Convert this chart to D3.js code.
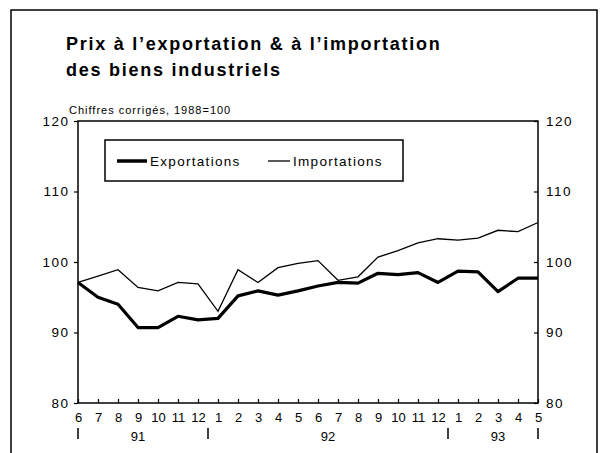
<!DOCTYPE html>
<html>
<head>
<meta charset="utf-8">
<script src="https://cdn.jsdelivr.net/npm/d3@7"></script>
<style>
  body { margin: 0; background: #fff; }
  svg { display: block; font-family: "Liberation Sans", Arial, sans-serif; }
</style>
</head>
<body>
<div id="graph"></div>
<script>
const width = 601, height = 453;

// months from 6/91 to 5/93
const months = ["6","7","8","9","10","11","12","1","2","3","4","5","6","7","8","9","10","11","12","1","2","3","4","5"];
const exportations = [97.1, 95.0, 94.0, 90.7, 90.7, 92.3, 91.8, 92.0, 95.2, 95.9, 95.3, 95.9, 96.6, 97.1, 97.0, 98.4, 98.2, 98.5, 97.1, 98.7, 98.6, 95.8, 97.7, 97.7];
const importations = [97.1, 98.0, 98.9, 96.4, 95.9, 97.1, 96.9, 93.0, 98.9, 97.1, 99.2, 99.8, 100.2, 97.4, 97.9, 100.7, 101.6, 102.7, 103.3, 103.1, 103.4, 104.5, 104.3, 105.6];
const yTicks = [80, 90, 100, 110, 120];
const years = [{label: "91", at: 3}, {label: "92", at: 12.5}, {label: "93", at: 21}];
const yearBreaks = [0, 6.5, 18.5, 23];

const svg = d3.select("#graph").append("svg").attr("width", width).attr("height", height);

// outer frame
svg.append("path")
  .attr("d", "M11,460 L11,10 L597,10 L597,460")
  .attr("fill", "none").attr("stroke", "#000").attr("stroke-width", 1.5);

svg.append("text").attr("x", 66).attr("y", 50)
  .attr("font-size", 18).attr("font-weight", "bold").attr("letter-spacing", 1.75)
  .text("Prix à l’exportation & à l’importation");
svg.append("text").attr("x", 66).attr("y", 76)
  .attr("font-size", 18).attr("font-weight", "bold").attr("letter-spacing", 1.75)
  .text("des biens industriels");
svg.append("text").attr("x", 69).attr("y", 114)
  .attr("font-size", 11).attr("letter-spacing", 1)
  .text("Chiffres corrigés, 1988=100");

const x = d3.scaleLinear().domain([0, months.length - 1]).range([78, 538]);
const y = d3.scaleLinear().domain([80, 120]).range([403, 121]);

// plot box
svg.append("rect").attr("x", x(0)).attr("y", y(120))
  .attr("width", x(23) - x(0)).attr("height", y(80) - y(120))
  .attr("fill", "none").attr("stroke", "#000").attr("stroke-width", 1.5);

// y axes
const yl = svg.append("g").attr("transform", `translate(${x(0)},0)`)
  .call(d3.axisLeft(y).tickValues(yTicks).tickSize(4).tickPadding(3));
const yr = svg.append("g").attr("transform", `translate(${x(23)},0)`)
  .call(d3.axisRight(y).tickValues(yTicks).tickSize(-4).tickPadding(8));
[yl, yr].forEach(g => {
  g.select(".domain").remove();
  g.selectAll("line").attr("stroke", "#000").attr("stroke-width", 1.2);
  g.selectAll("text").attr("font-size", 13.5).attr("letter-spacing", 1.5)
    .attr("font-family", "Liberation Sans, Arial, sans-serif").attr("fill", "#000");
});
yl.selectAll("text").attr("dx", -1.5);

// x axis
const xa = svg.append("g").attr("transform", `translate(0,${y(80)})`)
  .call(d3.axisBottom(x).tickValues(d3.range(months.length)).tickSize(-4).tickPadding(10)
    .tickFormat(i => months[i]));
xa.select(".domain").remove();
xa.selectAll("line").attr("stroke", "#000").attr("stroke-width", 1.2);
xa.selectAll("text").attr("font-size", 13).attr("font-family", "Liberation Sans, Arial, sans-serif").attr("fill", "#000");

svg.selectAll(".year").data(years).join("text")
  .attr("x", d => x(d.at)).attr("y", 441)
  .attr("text-anchor", "middle").attr("font-size", 13)
  .text(d => d.label);
svg.selectAll(".ybreak").data(yearBreaks).join("line")
  .attr("x1", d => x(d)).attr("x2", d => x(d))
  .attr("y1", 428).attr("y2", 439)
  .attr("stroke", "#000").attr("stroke-width", 1.5);

const line = d3.line().x((d, i) => x(i)).y(d => y(d));

svg.append("path").datum(importations)
  .attr("d", line).attr("fill", "none").attr("stroke", "#000").attr("stroke-width", 1.3);
svg.append("path").datum(exportations)
  .attr("d", line).attr("fill", "none").attr("stroke", "#000").attr("stroke-width", 3.2)
  .attr("stroke-linejoin", "round");

// legend
const lg = svg.append("g");
lg.append("rect").attr("x", 105).attr("y", 140).attr("width", 298).attr("height", 41)
  .attr("fill", "#fff").attr("stroke", "#000").attr("stroke-width", 1.5);
lg.append("line").attr("x1", 117).attr("x2", 147).attr("y1", 161).attr("y2", 161)
  .attr("stroke", "#000").attr("stroke-width", 3.5);
lg.append("text").attr("x", 150).attr("y", 166).attr("font-size", 13.5).attr("letter-spacing", 1.3).text("Exportations");
lg.append("line").attr("x1", 268).attr("x2", 290).attr("y1", 161).attr("y2", 161)
  .attr("stroke", "#000").attr("stroke-width", 1.3);
lg.append("text").attr("x", 293).attr("y", 166).attr("font-size", 13.5).attr("letter-spacing", 1.3).text("Importations");
</script>
</body>
</html>
